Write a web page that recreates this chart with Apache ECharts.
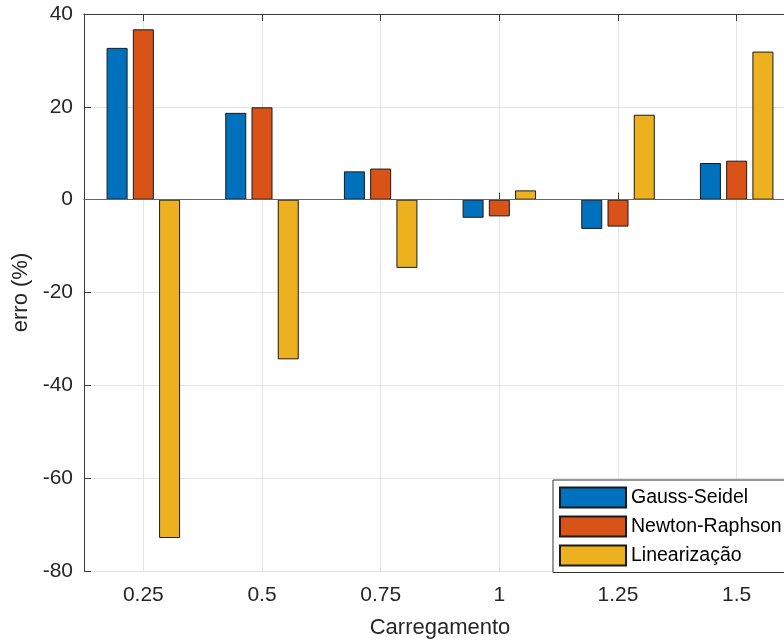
<!DOCTYPE html>
<html>
<head>
<meta charset="utf-8">
<script src="https://cdn.jsdelivr.net/npm/echarts@6/dist/echarts.min.js"></script>
<style>
html,body{margin:0;padding:0;background:#fff;overflow:hidden;width:784px;height:644px;}
#chart{width:800px;height:644px;}
</style>
</head>
<body>
<div id="chart"></div>
<script>
const categories = ['0.25', '0.5', '0.75', '1', '1.25', '1.5'];
const gaussSeidel = [32.7, 18.7, 6.1, -3.9, -6.3, 7.9];
const newtonRaphson = [36.7, 19.9, 6.7, -3.6, -5.8, 8.4];
const linearizacao = [-72.9, -34.4, -14.7, 2.0, 18.3, 31.9];
const seriesNames = ['Gauss-Seidel', 'Newton-Raphson', 'Linearização'];
const yTicks = { min: -80, max: 40, interval: 20 };

const font = 'Liberation Sans, Arial, Helvetica, sans-serif';
const textColor = '#262626';
const axisColor = '#3a3a3a';
const colors = ['#0072BD', '#D95319', '#EDB120'];

const chart = echarts.init(document.getElementById('chart'), null, { renderer: 'canvas' });

function barSeries(name, data, color, withZero) {
  const s = {
    name: name,
    type: 'bar',
    data: data,
    barWidth: 21,
    barGap: '25%',
    itemStyle: { color: color, borderColor: '#1a1a1a', borderWidth: 1 },
    emphasis: { disabled: true },
    animation: false
  };
  if (withZero) {
    s.markLine = {
      silent: true,
      symbol: 'none',
      label: { show: false },
      lineStyle: { color: '#666666', width: 1.2, type: 'solid' },
      data: [{ yAxis: 0 }],
      animation: false
    };
  }
  return s;
}

chart.setOption({
  backgroundColor: '#ffffff',
  animation: false,
  textStyle: { fontFamily: font },
  grid: { left: 84, top: 14, width: 712, height: 561, containLabel: false },
  legend: {
    orient: 'vertical',
    left: 553,
    top: 480,
    padding: [6.5, 20, 6, 6],
    itemWidth: 66,
    itemHeight: 20,
    itemGap: 7,
    icon: 'rect',
    backgroundColor: '#ffffff',
    borderColor: '#333333',
    borderWidth: 1,
    borderRadius: 0,
    textStyle: { fontSize: 19.5, color: '#000000', fontFamily: font },
    data: seriesNames
  },
  xAxis: [
    {
      type: 'category',
      data: categories,
      position: 'bottom',
      name: 'Carregamento',
      nameLocation: 'middle',
      nameGap: 46,
      nameTextStyle: { fontSize: 22, color: textColor, fontFamily: font },
      axisLine: { show: true, lineStyle: { color: axisColor, width: 1 } },
      axisTick: { show: true, inside: true, length: 7, alignWithLabel: true, lineStyle: { color: axisColor } },
      axisLabel: { fontSize: 21, color: textColor, margin: 14, fontFamily: font },
      splitLine: { show: true, alignWithLabel: true, lineStyle: { color: '#e3e3e3', width: 1 } }
    },
    {
      type: 'category',
      data: categories,
      position: 'top',
      axisLine: { show: true, lineStyle: { color: axisColor, width: 1 } },
      axisTick: { show: true, inside: true, length: 7, alignWithLabel: true, lineStyle: { color: axisColor } },
      axisLabel: { show: false },
      splitLine: { show: false }
    }
  ],
  yAxis: {
    type: 'value',
    min: yTicks.min,
    max: yTicks.max,
    interval: yTicks.interval,
    name: 'erro (%)',
    nameLocation: 'middle',
    nameRotate: 90,
    nameGap: 48,
    nameTextStyle: { fontSize: 22, color: textColor, fontFamily: font },
    axisLine: { show: true, lineStyle: { color: axisColor, width: 1 } },
    axisTick: { show: true, inside: true, length: 7, lineStyle: { color: axisColor } },
    axisLabel: { fontSize: 21, color: textColor, margin: 11, fontFamily: font },
    splitLine: { show: true, lineStyle: { color: '#e3e3e3', width: 1 } }
  },
  series: [
    barSeries(seriesNames[0], gaussSeidel, colors[0], true),
    barSeries(seriesNames[1], newtonRaphson, colors[1], false),
    barSeries(seriesNames[2], linearizacao, colors[2], false)
  ]
});
</script>
</body>
</html>
